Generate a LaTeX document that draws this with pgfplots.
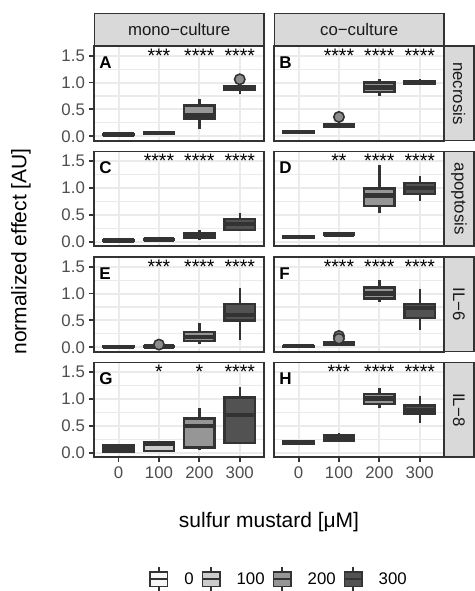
\documentclass[border=0pt]{standalone}
\usepackage{fontspec}
\setmainfont{Liberation Sans}
\usepackage{pgfplots}
\pgfplotsset{compat=1.18}
\usepgfplotslibrary{statistics}

\definecolor{c0}{HTML}{F7F7F7}
\definecolor{c1}{HTML}{CCCCCC}
\definecolor{c2}{HTML}{969696}
\definecolor{c3}{HTML}{525252}
\definecolor{dark}{HTML}{333333}
\definecolor{gridc}{HTML}{EBEBEB}
\definecolor{stripc}{HTML}{D9D9D9}
\definecolor{tickc}{HTML}{4D4D4D}
\definecolor{stript}{HTML}{1A1A1A}
\definecolor{outfill}{HTML}{8C8C8C}

\newcommand{\tickfont}{\fontsize{16.8bp}{19bp}\selectfont}
\newcommand{\titlefont}{\fontsize{21bp}{24bp}\selectfont}
\newcommand{\starfont}{\fontsize{19.5bp}{20bp}\selectfont}
\newcommand{\letfont}{\fontsize{17bp}{18bp}\selectfont\bfseries}

\pgfplotsset{
  boxplot/draw direction=y,
  boxplot/box extend=0.75,
  boxplot/whisker extend=0,
  boxplot/every median/.style={line width=4.5bp},
  panel/.style={scale only axis, width=169.7bp, height=94.6bp,
    xmin=0.4, xmax=4.6, ymin=-0.08, ymax=1.68,
    xtick={1,2,3,4}, ytick={0,0.5,1,1.5}, minor ytick={0.25,0.75,1.25},
    grid=both,
    major grid style={draw=gridc, line width=2bp},
    minor grid style={draw=gridc, line width=1.1bp},
    axis line style={draw=dark, line width=1.9bp},
    tick align=outside, major tick length=5.25bp, minor tick length=0pt,
    tick style={draw=dark, line width=1.9bp},
    xtick pos=bottom, ytick pos=left,
    xticklabels={}, yticklabels={},
    clip=false,
    ticklabel style={font=\tickfont, text=tickc},
    /pgf/number format/assume math mode=true},
  lefty/.style={yticklabels={0.0,0.5,1.0,1.5},
    yticklabel style={anchor=east, inner sep=0pt, xshift=-4bp}},
  noy/.style={ytick style={draw=none}},
  bottomx/.style={xticklabels={0,100,200,300},
    xticklabel style={anchor=north, inner sep=0pt, yshift=-4.25bp}},
  nox/.style={xtick style={draw=none}},
}

% position, fill, lower whisker, lower quartile, median, upper quartile, upper whisker
\newcommand{\bx}[7]{\addplot[boxplot prepared={draw position=#1, lower whisker=#3,
  lower quartile=#4, median=#5, upper quartile=#6, upper whisker=#7},
  fill=#2, draw=dark, line width=2.3bp] coordinates {};}
\newcommand{\bxo}[8]{\addplot[boxplot prepared={draw position=#1, lower whisker=#3,
  lower quartile=#4, median=#5, upper quartile=#6, upper whisker=#7},
  fill=#2, draw=dark, line width=2.3bp, mark=*, mark size=5.2bp,
  mark options={fill=outfill, draw=dark, line width=1.6bp}] coordinates {#8};}
\newcommand{\stars}[3]{%
  \node[font=\starfont, anchor=base, inner sep=0pt] at (axis cs:2,1.38) {#1};
  \node[font=\starfont, anchor=base, inner sep=0pt] at (axis cs:3,1.38) {#2};
  \node[font=\starfont, anchor=base, inner sep=0pt] at (axis cs:4,1.38) {#3};}
\newcommand{\plabel}[1]{\node[font=\letfont, anchor=base west, inner sep=0pt] at (axis cs:0.52,1.27) {#1};}

\begin{document}
\begin{tikzpicture}[x=1bp,y=1bp]
\path[use as bounding box, fill=white] (0,0) rectangle (475,591);

% ---------- Row 1: necrosis ----------
\begin{axis}[panel, lefty, nox, at={(94.3bp,450.4bp)}, anchor=south west]
\bx{1}{c0}{0.01}{0.02}{0.03}{0.04}{0.05}
\bx{2}{c1}{0.04}{0.05}{0.06}{0.07}{0.08}
\bx{3}{c2}{0.14}{0.33}{0.40}{0.57}{0.69}
\bxo{4}{c3}{0.78}{0.86}{0.90}{0.93}{0.95}{(0,1.06)}
\stars{***}{****}{****}
\plabel{A}
\end{axis}
\begin{axis}[panel, noy, nox, at={(274.3bp,450.4bp)}, anchor=south west]
\bx{1}{c0}{0.05}{0.07}{0.08}{0.09}{0.11}
\bxo{2}{c1}{0.15}{0.17}{0.20}{0.23}{0.26}{(0,0.36)}
\bx{3}{c2}{0.75}{0.83}{0.91}{1.00}{1.07}
\bx{4}{c3}{0.96}{0.98}{1.00}{1.03}{1.06}
\stars{****}{****}{****}
\plabel{B}
\end{axis}

% ---------- Row 2: apoptosis ----------
\begin{axis}[panel, lefty, nox, at={(94.3bp,344.9bp)}, anchor=south west]
\bx{1}{c0}{0.00}{0.01}{0.02}{0.03}{0.04}
\bx{2}{c1}{0.02}{0.03}{0.04}{0.05}{0.06}
\bx{3}{c2}{0.04}{0.08}{0.13}{0.17}{0.22}
\bx{4}{c3}{0.20}{0.22}{0.33}{0.43}{0.53}
\stars{****}{****}{****}
\plabel{C}
\end{axis}
\begin{axis}[panel, noy, nox, at={(274.3bp,344.9bp)}, anchor=south west]
\bx{1}{c0}{0.07}{0.08}{0.09}{0.10}{0.11}
\bx{2}{c1}{0.11}{0.13}{0.14}{0.16}{0.17}
\bx{3}{c2}{0.54}{0.67}{0.86}{0.99}{1.43}
\bx{4}{c3}{0.76}{0.89}{1.00}{1.10}{1.23}
\stars{**}{****}{****}
\plabel{D}
\end{axis}

% ---------- Row 3: IL-6 ----------
\begin{axis}[panel, lefty, nox, at={(94.3bp,239.4bp)}, anchor=south west]
\bx{1}{c0}{0.00}{0.005}{0.01}{0.02}{0.03}
\bxo{2}{c1}{0.00}{0.01}{0.015}{0.02}{0.03}{(0,0.05)}
\bx{3}{c2}{0.07}{0.12}{0.19}{0.28}{0.45}
\bx{4}{c3}{0.13}{0.50}{0.60}{0.80}{1.10}
\stars{***}{****}{****}
\plabel{E}
\end{axis}
\begin{axis}[panel, noy, nox, at={(274.3bp,239.4bp)}, anchor=south west]
\bx{1}{c0}{0.00}{0.01}{0.02}{0.03}{0.04}
\bxo{2}{c1}{0.03}{0.05}{0.07}{0.10}{0.12}{(0,0.21) (0,0.16)}
\bx{3}{c2}{0.84}{0.91}{1.00}{1.11}{1.26}
\bx{4}{c3}{0.32}{0.55}{0.73}{0.81}{1.09}
\stars{****}{****}{****}
\plabel{F}
\end{axis}

% ---------- Row 4: IL-8 ----------
\begin{axis}[panel, lefty, bottomx, at={(94.3bp,133.9bp)}, anchor=south west]
\bx{1}{c0}{0.02}{0.024}{0.09}{0.15}{0.15}
\bx{2}{c1}{0.037}{0.037}{0.17}{0.20}{0.20}
\bx{3}{c2}{0.06}{0.10}{0.50}{0.64}{0.84}
\bx{4}{c3}{0.16}{0.18}{0.70}{1.03}{1.22}
\stars{*}{*}{****}
\plabel{G}
\end{axis}
\begin{axis}[panel, noy, bottomx, at={(274.3bp,133.9bp)}, anchor=south west]
\bx{1}{c0}{0.16}{0.17}{0.19}{0.21}{0.22}
\bx{2}{c1}{0.20}{0.22}{0.27}{0.32}{0.36}
\bx{3}{c2}{0.83}{0.91}{1.01}{1.09}{1.21}
\bx{4}{c3}{0.55}{0.73}{0.80}{0.88}{1.06}
\stars{***}{****}{****}
\plabel{H}
\end{axis}

% ---------- strips ----------
\begin{scope}[every node/.style={font=\tickfont, text=stript}]
\draw[fill=stripc, draw=dark, line width=1.5bp] (94.3,545) rectangle (264,577.7);
\node at (179.15,561.35) {mono−culture};
\draw[fill=stripc, draw=dark, line width=1.5bp] (274.3,545) rectangle (444,577.7);
\node at (359.15,561.35) {co−culture};
\draw[fill=stripc, draw=dark, line width=1.5bp] (444,450.4) rectangle (474,545);
\node[rotate=-90] at (459,497.7) {necrosis};
\draw[fill=stripc, draw=dark, line width=1.5bp] (444,344.9) rectangle (474,439.5);
\node[rotate=-90] at (459,392.2) {apoptosis};
\draw[fill=stripc, draw=dark, line width=1.5bp] (444,239.4) rectangle (474,334);
\node[rotate=-90] at (459,286.7) {IL−6};
\draw[fill=stripc, draw=dark, line width=1.5bp] (444,133.9) rectangle (474,228.5);
\node[rotate=-90] at (459,181.2) {IL−8};
\end{scope}

% ---------- axis titles ----------
\node[font=\titlefont, rotate=90] at (21,339.5) {normalized effect [AU]};
\node[font=\titlefont] at (269,69) {sulfur mustard [μM]};

% ---------- legend ----------
\begin{axis}[at={(0,0)}, anchor=south west, scale only axis, width=475bp, height=591bp,
  xmin=0, xmax=1, ymin=0, ymax=1, hide axis,
  legend columns=4,
  legend image code/.code={
    \draw[#1, draw=dark, line width=1.6bp] (0bp,-7.3bp) rectangle (17.4bp,7.3bp);
    \draw[dark, line width=1.6bp] (0bp,0bp) -- (17.4bp,0bp);
    \draw[dark, line width=1.6bp] (8.7bp,7.3bp) -- (8.7bp,12.3bp);
    \draw[dark, line width=1.6bp] (8.7bp,-7.3bp) -- (8.7bp,-12.3bp);
  },
  legend style={at={(149.3/475,12/591)}, anchor=west, draw=none, fill=none,
    inner sep=0pt, outer sep=0pt, font=\tickfont,
    nodes={inner sep=0pt},
    /tikz/every odd column/.append style={column sep=16bp},
    /tikz/every even column/.append style={column sep=8bp}},
]
\addlegendimage{fill=c0}\addlegendentry{0}
\addlegendimage{fill=c1}\addlegendentry{100}
\addlegendimage{fill=c2}\addlegendentry{200}
\addlegendimage{fill=c3}\addlegendentry{300}
\end{axis}
\end{tikzpicture}
\end{document}
